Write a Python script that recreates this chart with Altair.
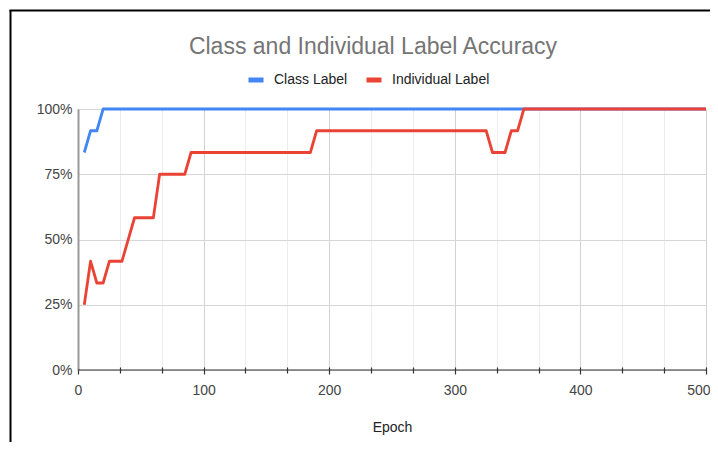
import altair as alt
import pandas as pd

FONT = "Liberation Sans"

series_names = ["Class Label", "Individual Label"]
series_colors = ["#4285F4", "#EA4335"]

class_epochs = [5, 10, 15, 20, 500]
class_acc = [0.8333, 0.9167, 0.9167, 1.0, 1.0]

indiv_epochs = [5, 10, 15, 20, 25, 35, 45, 60, 65, 85, 90, 185, 190, 325, 330, 340, 345, 350, 355, 500]
indiv_acc = [0.25, 0.4167, 0.3333, 0.3333, 0.4167, 0.4167, 0.5833, 0.5833, 0.75, 0.75,
             0.8333, 0.8333, 0.9167, 0.9167, 0.8333, 0.8333, 0.9167, 0.9167, 1.0, 1.0]

x_tick_values = [0, 33.33, 66.67, 100, 133.33, 166.67, 200, 233.33, 266.67, 300,
                 333.33, 366.67, 400, 433.33, 466.67, 500]
y_tick_values = [0, 0.25, 0.5, 0.75, 1.0]

rows = []
for e, a in zip(class_epochs, class_acc):
    rows.append({"Epoch": e, "Accuracy": a, "Series": series_names[0]})
for e, a in zip(indiv_epochs, indiv_acc):
    rows.append({"Epoch": e, "Accuracy": a, "Series": series_names[1]})
df = pd.DataFrame(rows)

major = "datum.value % 100 === 0"
last = "datum.value === 500"

lines = alt.Chart(df).mark_line(strokeWidth=2.8, strokeJoin="round").encode(
    x=alt.X(
        "Epoch:Q",
        scale=alt.Scale(domain=[0, 500], nice=False, zero=False),
        axis=alt.Axis(
            values=x_tick_values,
            title="Epoch",
            labelExpr="datum.value % 100 === 0 ? format(datum.value, 'd') : ''",
            domain=False,
            offset=-3,
            tickColor="#333333",
            tickWidth=1.2,
            tickSize={"condition": {"test": major, "value": 7}, "value": 6},
            grid=True,
            gridColor={"condition": {"test": major, "value": "#d2d2d2"}, "value": "#ececec"},
            gridWidth=1,
            labelFont=FONT,
            labelFontSize=14,
            labelColor="#444444",
            labelPadding=9,
            labelFlush=False,
            labelOverlap=False,
            labelAlign={"condition": {"test": last, "value": "right"}, "value": "center"},
            labelOffset={"condition": {"test": last, "value": 4}, "value": 0},
            titleFont=FONT,
            titleFontSize=14,
            titleFontWeight="normal",
            titleColor="#222222",
            titlePadding=23,
        ),
    ),
    y=alt.Y(
        "Accuracy:Q",
        scale=alt.Scale(domain=[0, 1], nice=False),
        axis=alt.Axis(
            values=y_tick_values,
            format=".0%",
            title=None,
            domain=True,
            domainColor="#999999",
            domainWidth=2,
            ticks=False,
            grid=True,
            gridColor="#d6d6d6",
            gridWidth=1,
            labelFont=FONT,
            labelFontSize=14,
            labelColor="#444444",
            labelPadding=6,
        ),
    ),
    color=alt.Color(
        "Series:N",
        scale=alt.Scale(domain=series_names, range=series_colors),
        legend=alt.Legend(
            title=None,
            orient="none",
            direction="horizontal",
            legendX=168,
            legendY=-39,
            symbolType="stroke",
            symbolSize=225,
            symbolStrokeWidth=5,
            labelFont=FONT,
            labelFontSize=14,
            labelColor="#222222",
            labelOffset=8,
            columnPadding=8,
            padding=0,
        ),
    ),
)

baseline = alt.Chart(pd.DataFrame({"Accuracy": [0]})).mark_rule(
    color="#333333", strokeWidth=1.2
).encode(y="Accuracy:Q")

frame_df = pd.DataFrame({"k": [0]})
frame_left = alt.Chart(frame_df).mark_rule(color="#000000", strokeWidth=2).encode(
    x=alt.value(-67.5), y=alt.value(-99), y2=alt.value(335)
)
frame_top = alt.Chart(frame_df).mark_rule(color="#000000", strokeWidth=2).encode(
    x=alt.value(-68.5), x2=alt.value(640), y=alt.value(-98.5)
)

chart = alt.layer(lines, baseline, frame_left, frame_top).properties(
    width=628,
    height=261,
    autosize=alt.AutoSizeParams(type="none"),
    padding={"left": 70, "top": 101, "right": 4, "bottom": 72},
    title=alt.TitleParams(
        "Class and Individual Label Accuracy",
        font=FONT,
        fontSize=23,
        fontWeight="normal",
        color="#757575",
        anchor="middle",
        frame="group",
        baseline="alphabetic",
        offset=0,
        dx=-19,
        dy=68,
    ),
).configure_view(stroke=None).configure(background="white")

chart.save("out.html", embed_options={"renderer": "svg", "actions": False})
